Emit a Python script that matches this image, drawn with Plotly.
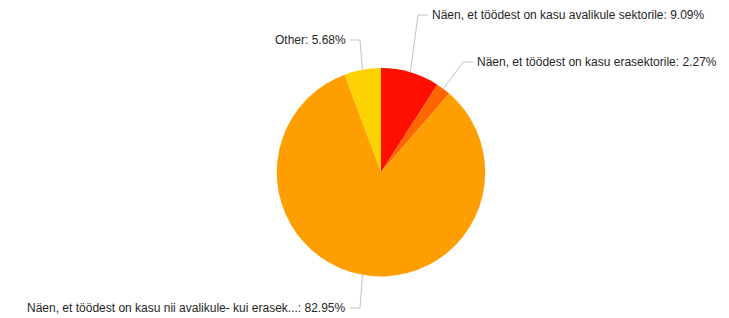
import math
import plotly.graph_objects as go

# ---- data ----
labels = [
    "Näen, et töödest on kasu avalikule sektorile",
    "Näen, et töödest on kasu erasektorile",
    "Näen, et töödest on kasu nii avalikule- kui erasek...",
    "Other",
]
values = [9.09, 2.27, 82.95, 5.68]
colors = ["#FF0F00", "#FF6600", "#FF9E01", "#FCD202"]

# ---- layout constants (page pixels) ----
W, H = 729, 318
OFF = 8          # default body margin of the html page
FW, FH = W - OFF, H - OFF
cx, cy, r = 381.0, 172.3, 104.2
# elbow point of each leader line and the side the text sits on
elbows = [(418, 15, "right"), (463, 62, "right"), (360, 308, "left"), (360, 40, "left")]
seg = 10   # horizontal part of leader line
gap = 3    # gap between line end and text


def px(x):
    return (x - OFF) / FW


def py(y):
    return 1 - (y - OFF) / FH


fig = go.Figure(
    go.Pie(
        labels=labels,
        values=values,
        marker=dict(colors=colors, line=dict(width=0)),
        sort=False,
        direction="clockwise",
        rotation=0,
        textinfo="none",
        hoverinfo="label+percent",
        showlegend=False,
        domain=dict(x=[px(cx - r), px(cx + r)], y=[py(cy + r), py(cy - r)]),
    )
)

total = sum(values)
cum = 0.0
shapes = []
annotations = []
for lab, val, (ex, ey, side) in zip(labels, values, elbows):
    mid = (cum + val / 2) / total * 2 * math.pi
    cum += val
    sx = cx + r * math.sin(mid)
    sy = cy - r * math.cos(mid)
    if side == "right":
        endx = ex + seg
        tx = endx + gap
        anchor = "left"
    else:
        endx = ex - seg
        tx = endx - gap
        anchor = "right"
    path = f"M {px(sx)},{py(sy)} L {px(ex)},{py(ey)} L {px(endx)},{py(ey)}"
    shapes.append(dict(type="path", xref="paper", yref="paper", path=path,
                       line=dict(color="#c4c4c4", width=1)))
    annotations.append(dict(
        xref="paper", yref="paper", x=px(tx), y=py(ey),
        xanchor=anchor, yanchor="middle", showarrow=False, borderpad=0,
        text=f"{lab}: {val:.2f}%",
        font=dict(family="Liberation Sans, Arial, sans-serif", size=12, color="#262626"),
    ))

fig.update_layout(
    width=FW, height=FH,
    margin=dict(l=0, r=0, t=0, b=0),
    paper_bgcolor="white", plot_bgcolor="white",
    shapes=shapes, annotations=annotations,
)

fig.write_html("out.html")
